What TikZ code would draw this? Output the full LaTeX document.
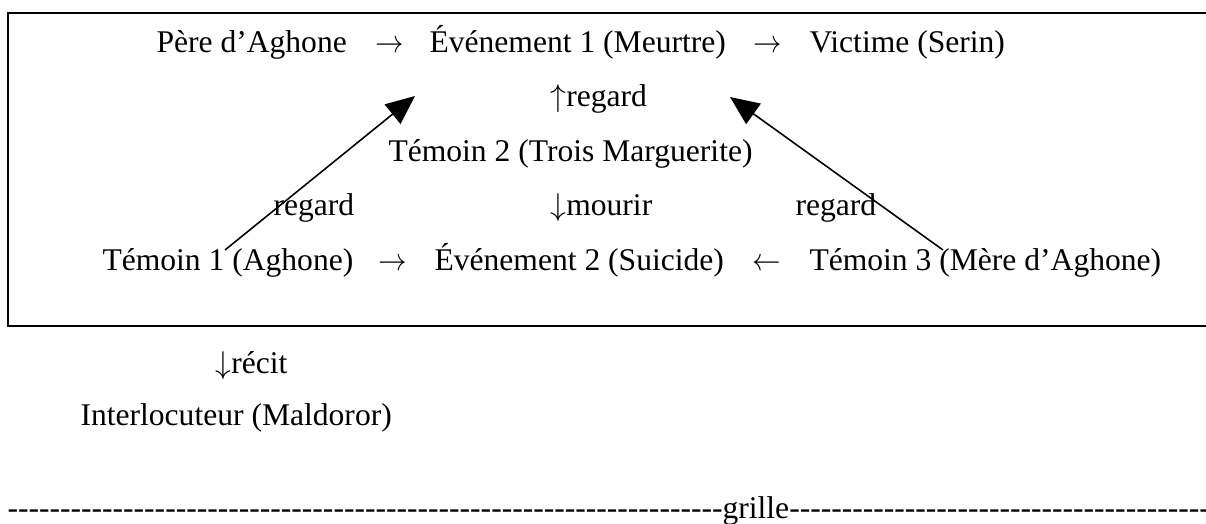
\documentclass[tikz,border=0pt]{standalone}
\usepackage{fontspec}
\usepackage{graphicx}
\setmainfont{Liberation Serif}
\usetikzlibrary{arrows.meta}
\tikzstyle{edge} = [-{Triangle[length=11pt,width=9.5pt]}, line width=0.6pt]
\tikzstyle{fleche} = [anchor=base]
\newcommand\tirets[1]{\foreach \k in {1,...,#1}{-\kern0pt}}
\newcommand\dr{\scalebox{0.9}[1]{$\rightarrow$}}
\newcommand\ga{\scalebox{0.9}[1]{$\leftarrow$}}

\begin{document}
\begin{tikzpicture}[x=0.38pt, y=-0.38pt]
\tikzstyle{every node}=[anchor=base west, inner sep=0pt, font=\fontsize{12pt}{14pt}\selectfont]
	\useasboundingbox (0,0) rectangle (1206,523);
	\clip (0,0) rectangle (1206,523);
	\draw[line width=0.8pt] (8,13) rectangle (1220,326);

	\node (pere) at (156, 52) {Père d’Aghone};
	\node[fleche] (fl1) at (390, 52) {\dr};
	\node (ev1) at (429, 52) {Événement 1 (Meurtre)};
	\node[fleche] (fl2) at (768, 52) {\dr};
	\node (vict) at (809, 52) {Victime (Serin)};
	\node (reg1) at (550, 106) {$\uparrow$regard};
	\node (tem2) at (388, 161) {Témoin 2 (Trois Marguerite)};
	\node (reg2) at (273, 215) {regard};
	\node (mour) at (550, 215) {$\downarrow$mourir};
	\node (reg3) at (795, 215) {regard};
	\node (tem1) at (102, 270) {Témoin 1 (Aghone)};
	\node[fleche] (fl3) at (393, 270) {\dr};
	\node (ev2) at (434, 270) {Événement 2 (Suicide)};
	\node[fleche] (fl4) at (767, 270) {\ga};
	\node (tem3) at (809, 270) {Témoin 3 (Mère d’Aghone)};

	\node (recit) at (215, 373) {$\downarrow$récit};
	\node (inter) at (80, 425) {Interlocuteur (Maldoror)};
	\node (grille) at (7, 518) {\tirets{68}grille\tirets{40}};

	\coordinate (g1) at (225, 250);
	\coordinate (g2) at (415, 96);
	\coordinate (d1) at (943, 250);
	\coordinate (d2) at (730, 97);
	\draw[edge] (g1) -- (g2);
	\draw[edge] (d1) -- (d2);
\end{tikzpicture}
\end{document}
